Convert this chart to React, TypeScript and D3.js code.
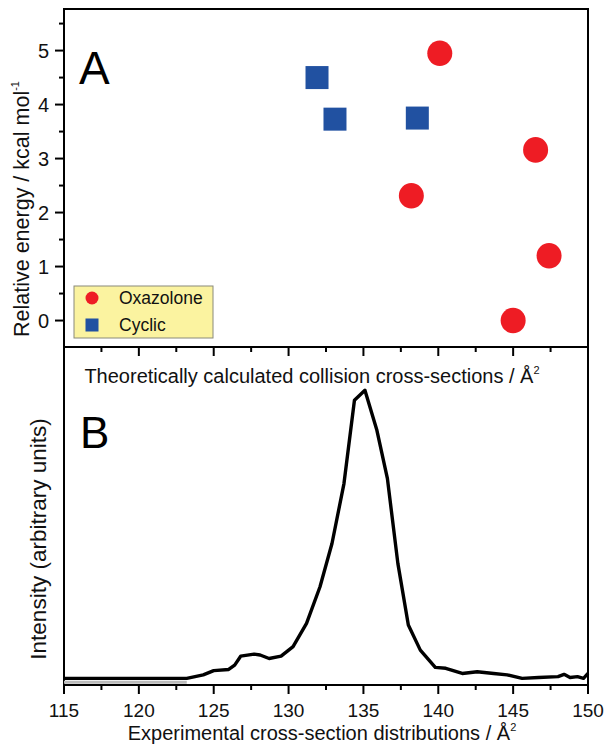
import React from "react";
import * as d3 from "d3";

// ---- Data ----
const oxazoloneCCS = [140.1, 138.2, 146.5, 147.4, 145.0];
const oxazoloneEnergy = [4.95, 2.31, 3.16, 1.2, 0.0];
const cyclicCCS = [131.9, 133.1, 138.6];
const cyclicEnergy = [4.5, 3.73, 3.75];

const expCCS = [
  115, 123.2, 124.3, 125.0, 126.0, 126.4, 126.8, 127.7, 128.1, 128.7, 129.5,
  130.3, 131.2, 132.1, 132.9, 133.7, 134.4, 135.1, 135.9, 136.6, 137.3, 138.0,
  138.8, 139.8, 140.5, 141.6, 142.6, 143.7, 144.6, 145.6, 146.7, 148.0, 148.4,
  148.8, 149.3, 149.7, 150.0,
];
const expIntensity = [
  0, 0, 1.2, 2.7, 3.1, 4.6, 7.7, 8.4, 8.1, 6.9, 7.7, 11.0, 19.1, 31.8, 46.8,
  67.6, 96.5, 100, 86.1, 69.4, 39.9, 18.5, 9.8, 3.8, 3.5, 1.7, 2.3, 1.7, 1.2,
  0, 0.3, 0.6, 1.4, 0.3, 0.6, 0, 1.7,
];

const xTickLabels = [115, 120, 125, 130, 135, 140, 145, 150];
const xMinorTicks = [117.5, 122.5, 127.5, 132.5, 137.5, 142.5, 147.5];
const energyTicks = [0, 1, 2, 3, 4, 5];
const energyMinorTicks = [0.5, 1.5, 2.5, 3.5, 4.5, 5.5];

const FONT = "'Liberation Sans', Arial, Helvetica, sans-serif";
const RED = "#ee1c24";
const BLUE = "#2151a1";
const TXT = "#111";

export default function App() {
  const left = 64;
  const right = 588;
  const top = 9;
  const mid = 347;
  const bottom = 685;

  const x = d3.scaleLinear().domain([115, 150]).range([left, right]);
  const yA = d3.scaleLinear().domain([-0.49, 5.77]).range([mid, top]);
  const yB = d3.scaleLinear().domain([-2.3, 115]).range([bottom, mid]);

  const pts = expCCS.map((c, i) => [c, expIntensity[i]] as [number, number]);
  const line = d3
    .line<[number, number]>()
    .x((d) => x(d[0]))
    .y((d) => yB(d[1]));
  const flatPts = pts.filter((d) => d[0] <= 123.2);

  const majorLen = 9;
  const minorLen = 5;

  return (
    <svg
      width={611}
      height={752}
      style={{ position: "absolute", left: 0, top: 0, background: "#fff" }}
      fontFamily={FONT}
    >
      <rect x={0} y={0} width={611} height={752} fill="#fff" />
      {/* Panel A frame */}
      <rect x={left} y={top} width={right - left} height={mid - top} fill="none" stroke="#000" strokeWidth={2} />
      {/* Panel B frame */}
      <rect x={left} y={mid} width={right - left} height={bottom - mid} fill="none" stroke="#000" strokeWidth={2} />

      {/* Panel A y ticks */}
      {energyTicks.map((t) => (
        <g key={"ya" + t}>
          <line x1={left - majorLen} x2={left} y1={yA(t)} y2={yA(t)} stroke="#000" strokeWidth={2} />
          <text x={left - 15} y={yA(t) + 7.3} fontSize={20} textAnchor="end" fill={TXT}>
            {t}
          </text>
        </g>
      ))}
      {energyMinorTicks.map((t) => (
        <line key={"yam" + t} x1={left - minorLen} x2={left} y1={yA(t)} y2={yA(t)} stroke="#000" strokeWidth={2} />
      ))}

      {/* Ticks on middle border (pointing down) */}
      {xTickLabels.slice(1, -1).map((t) => (
        <line key={"mt" + t} x1={x(t)} x2={x(t)} y1={mid} y2={mid + majorLen} stroke="#000" strokeWidth={2} />
      ))}
      {xMinorTicks.map((t) => (
        <line key={"mtm" + t} x1={x(t)} x2={x(t)} y1={mid} y2={mid + minorLen} stroke="#000" strokeWidth={2} />
      ))}

      {/* Bottom axis ticks */}
      {xTickLabels.map((t) => (
        <g key={"xb" + t}>
          <line x1={x(t)} x2={x(t)} y1={bottom} y2={bottom + majorLen} stroke="#000" strokeWidth={2} />
          <text x={x(t)} y={717} fontSize={19} textAnchor="middle" fill={TXT}>
            {t}
          </text>
        </g>
      ))}
      {xMinorTicks.map((t) => (
        <line key={"xbm" + t} x1={x(t)} x2={x(t)} y1={bottom} y2={bottom + minorLen} stroke="#000" strokeWidth={2} />
      ))}

      {/* Panel A points */}
      {cyclicCCS.map((c, i) => (
        <rect
          key={"cy" + i}
          x={x(c) - 11.5}
          y={yA(cyclicEnergy[i]) - 11.5}
          width={23}
          height={23}
          fill={BLUE}
        />
      ))}
      {oxazoloneCCS.map((c, i) => (
        <ellipse key={"ox" + i} cx={x(c)} cy={yA(oxazoloneEnergy[i])} rx={12.5} ry={12.8} fill={RED} />
      ))}

      {/* Legend */}
      <rect x={74} y={286} width={139} height={52} fill="#fbf3a0" stroke="#8a8a7a" strokeWidth={1} />
      <circle cx={92} cy={298} r={6.5} fill={RED} />
      <rect x={85.5} y={318.5} width={13} height={13} fill={BLUE} />
      <text x={119} y={304} fontSize={17.5} fill={TXT}>Oxazolone</text>
      <text x={119} y={331} fontSize={17.5} fill={TXT}>Cyclic</text>

      {/* Panel labels */}
      <text x={79} y={84} fontSize={46} fill="#000">A</text>
      <text x={80} y={448} fontSize={44} fill="#000">B</text>

      {/* Axis titles */}
      <text transform="translate(28.5,337) rotate(-90)" fontSize={21.5} textAnchor="start" fill={TXT}>
        Relative energy / kcal mol
        <tspan fontSize={11} dy={-10}>-1</tspan>
      </text>
      <text transform="translate(46,539) rotate(-90)" fontSize={22.5} textAnchor="middle" fill={TXT}>
        Intensity (arbitrary units)
      </text>
      <text x={312} y={383} fontSize={20} textAnchor="middle" fill={TXT}>
        Theoretically calculated collision cross-sections / Å
        <tspan fontSize={11} dy={-9}>2</tspan>
      </text>
      <text x={322} y={740} fontSize={20} textAnchor="middle" fill={TXT}>
        Experimental cross-section distributions / Å
        <tspan fontSize={11} dy={-9}>2</tspan>
      </text>

      {/* Panel B curve */}
      <path d={line(flatPts)!} transform="translate(0,4)" fill="none" stroke="#bbb" strokeWidth={3} />
      <path d={line(pts)!} fill="none" stroke="#000" strokeWidth={3.4} strokeLinejoin="round" />
    </svg>
  );
}
